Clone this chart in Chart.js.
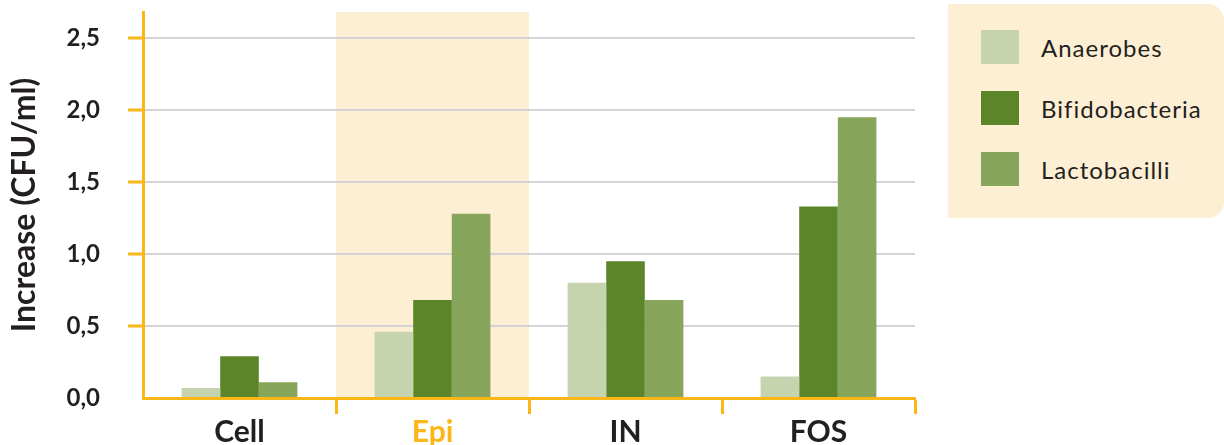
<!DOCTYPE html>
<html>
<head>
<meta charset="utf-8">
<script src="https://cdn.jsdelivr.net/npm/chart.js@4.4.0/dist/chart.umd.min.js"></script>
<style>
  body { margin: 0; background: #fff; }
  #wrap { position: relative; width: 1224px; height: 445px; }
  #legend {
    position: absolute; left: 948px; top: 4px; width: 276px; height: 214px;
    background: #fdefd4; border-radius: 0 16px 16px 0;
    font-family: "Lato", sans-serif; font-size: 24px; letter-spacing: 1px; color: #231f20;
  }
  .item { position: absolute; left: 33px; height: 34px; display: flex; align-items: center; }
  .sw { width: 38px; height: 34px; margin-right: 22px; }
</style>
</head>
<body>
<div id="wrap">
  <canvas id="grafico" width="1224" height="445"></canvas>
  <div id="legend"></div>
</div>
<script>
const categorias = ['Cell', 'Epi', 'IN', 'FOS'];
const anaerobes = [0.07, 0.46, 0.80, 0.15];
const bifido = [0.29, 0.68, 0.95, 1.33];
const lacto = [0.11, 1.28, 0.68, 1.95];
const yTicks = [0, 0.5, 1.0, 1.5, 2.0, 2.5];

const naranja = '#fbb718';
const texto = '#231f20';

const series = [
  { label: 'Anaerobes', data: anaerobes, color: '#c5d3af' },
  { label: 'Bifidobacteria', data: bifido, color: '#5c8529' },
  { label: 'Lactobacilli', data: lacto, color: '#87a55b' }
];

// franja de fondo detras de "Epi"
const franjaEpi = {
  id: 'franjaEpi',
  beforeDraw(chart) {
    const { ctx, chartArea, scales } = chart;
    const x = scales.x;
    const w = x.width / categorias.length;
    const cx = x.getPixelForValue(1);
    ctx.save();
    ctx.fillStyle = '#fdefd4';
    ctx.fillRect(cx - w / 2, chartArea.top, w, chartArea.bottom - chartArea.top);
    ctx.restore();
  }
};

const ctx = document.getElementById('grafico').getContext('2d');
new Chart(ctx, {
  type: 'bar',
  data: {
    labels: categorias,
    datasets: series.map(s => ({
      label: s.label,
      data: s.data,
      backgroundColor: s.color,
      borderWidth: 0,
      categoryPercentage: 0.6,
      barPercentage: 1.0
    }))
  },
  options: {
    responsive: false,
    animation: false,
    layout: { padding: { top: 12, right: 309, left: 0, bottom: 0 } },
    plugins: { legend: { display: false }, tooltip: { enabled: false } },
    scales: {
      x: {
        afterFit(scale) { scale.height = 47; },
        grid: {
          offset: true,
          drawOnChartArea: false,
          tickLength: 16,
          tickWidth: 3,
          tickColor: c => c.index === 0 ? 'rgba(0,0,0,0)' : naranja
        },
        border: { color: naranja, width: 3 },
        ticks: {
          padding: 0,
          color: c => c.index === 1 ? naranja : texto,
          font: { family: 'Lato', size: 30, weight: 'bold' }
        }
      },
      y: {
        min: 0,
        max: 2.68,
        afterFit(scale) {
          scale.width = 143;
          scale.paddingTop = 0;
          scale.paddingBottom = 0;
        },
        afterBuildTicks(scale) { scale.ticks = yTicks.map(v => ({ value: v })); },
        grid: {
          color: '#d4d4d4',
          lineWidth: 2,
          tickLength: 15,
          tickWidth: 3,
          tickColor: c => c.tick && c.tick.value === 0 ? 'rgba(0,0,0,0)' : naranja
        },
        border: { color: naranja, width: 3 },
        ticks: {
          padding: 28,
          color: texto,
          font: { family: 'Lato', size: 24, weight: 'bold' },
          callback: v => v.toFixed(1).replace('.', ',')
        },
        title: {
          display: true,
          text: 'Increase (CFU/ml)',
          color: texto,
          padding: { top: 5, bottom: 0 },
          font: { family: 'Lato', size: 32, weight: 'bold' }
        }
      }
    }
  },
  plugins: [franjaEpi]
});

// leyenda en HTML
const leyenda = document.getElementById('legend');
series.forEach((s, i) => {
  const it = document.createElement('div');
  it.className = 'item';
  it.style.top = (26 + i * 61) + 'px';
  it.innerHTML = '<span class="sw" style="background:' + s.color + '"></span>' + s.label;
  leyenda.appendChild(it);
});
</script>
</body>
</html>
